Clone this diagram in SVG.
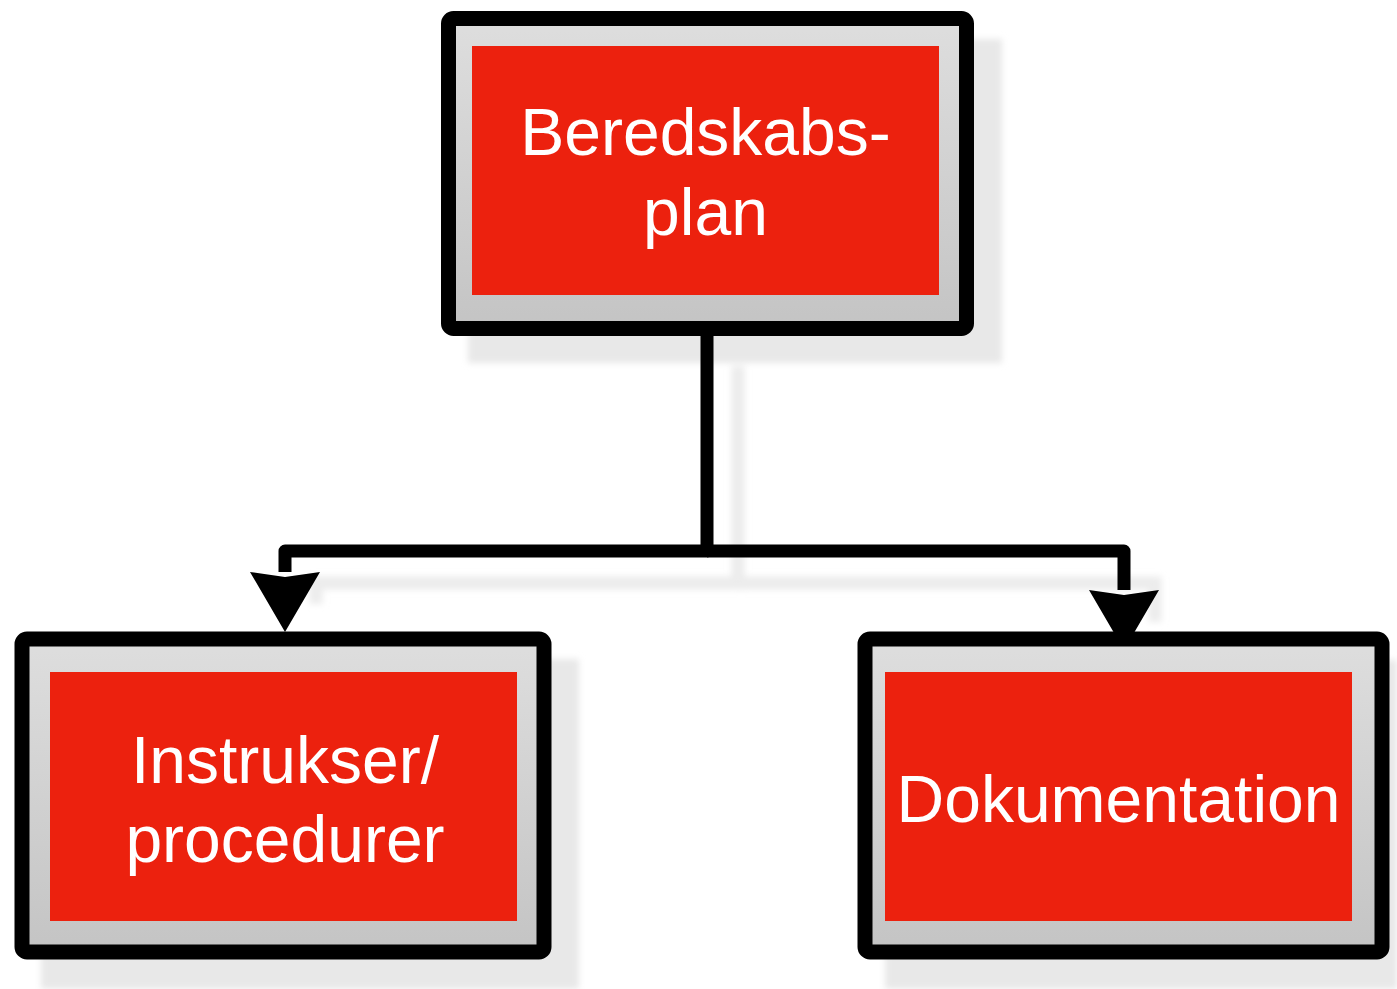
<svg xmlns="http://www.w3.org/2000/svg" width="1397" height="989" viewBox="0 0 1397 989">
  <style>
    .frame { fill: url(#grayfill); stroke: #000; stroke-width: 15; }
    .red { fill: #EC210E; }
    .shadow { fill: #e8e8e8; }
    .label { font-family: "Liberation Sans", Arial, Helvetica, sans-serif; font-size: 66px; fill: #ffffff; text-anchor: middle; }
    .conn { fill: none; stroke: #000; stroke-width: 13; stroke-linejoin: round; }
    .connshadow { fill: none; stroke: #ececec; stroke-width: 13; }
  </style>
  <defs>
    <linearGradient id="grayfill" x1="0" y1="0" x2="0" y2="1">
      <stop offset="0" stop-color="#dedede"/>
      <stop offset="1" stop-color="#c4c4c4"/>
    </linearGradient>
    <filter id="soft" x="-5%" y="-5%" width="110%" height="110%">
      <feGaussianBlur stdDeviation="3"/>
    </filter>
    <marker id="arrow" markerUnits="userSpaceOnUse" markerWidth="62" markerHeight="72" viewBox="0 0 62 72" refX="0" refY="36" orient="auto">
      <path d="M0,1 L60,36 L0,71 L5,36 Z" fill="#000"/>
    </marker>
    <marker id="arrowshadow" markerUnits="userSpaceOnUse" markerWidth="62" markerHeight="72" viewBox="0 0 62 72" refX="0" refY="36" orient="auto">
      <path d="M0,1 L60,36 L0,71 L5,36 Z" fill="#ececec"/>
    </marker>
  </defs>

  <!-- shadows -->
  <g id="shadows" filter="url(#soft)">
    <rect class="shadow" x="468" y="39" width="534" height="324"/>
    <rect class="shadow" x="41" y="659" width="538" height="330"/>
    <rect class="shadow" x="885" y="660" width="512" height="329"/>
    <path class="connshadow" d="M738,366 V583 H316 V604"/>
    <path class="connshadow" d="M738,583 H1155 V622"/>
  </g>

  <!-- connectors -->
  <g id="connectors">
    <path class="conn" d="M707,333 V551 H285 V572" marker-end="url(#arrow)"/>
    <path class="conn" d="M707,551 H1124 V590" marker-end="url(#arrow)"/>
  </g>

  <g id="node-beredskabsplan">
    <rect class="frame" x="448.5" y="18.5" width="518" height="310" rx="5"/>
    <rect class="red" x="472" y="46" width="467" height="249"/>
    <text class="label" x="705.5" y="155">Beredskabs-</text>
    <text class="label" x="705.5" y="235">plan</text>
  </g>

  <g id="node-instrukser">
    <rect class="frame" x="22" y="639" width="522" height="313" rx="5"/>
    <rect class="red" x="50" y="672" width="467" height="249"/>
    <text class="label" x="285" y="783">Instrukser/</text>
    <text class="label" x="285" y="862">procedurer</text>
  </g>

  <g id="node-dokumentation">
    <rect class="frame" x="865" y="639" width="517" height="313" rx="5"/>
    <rect class="red" x="885" y="672" width="467" height="249"/>
    <text class="label" x="1118.5" y="822">Dokumentation</text>
  </g>
</svg>
